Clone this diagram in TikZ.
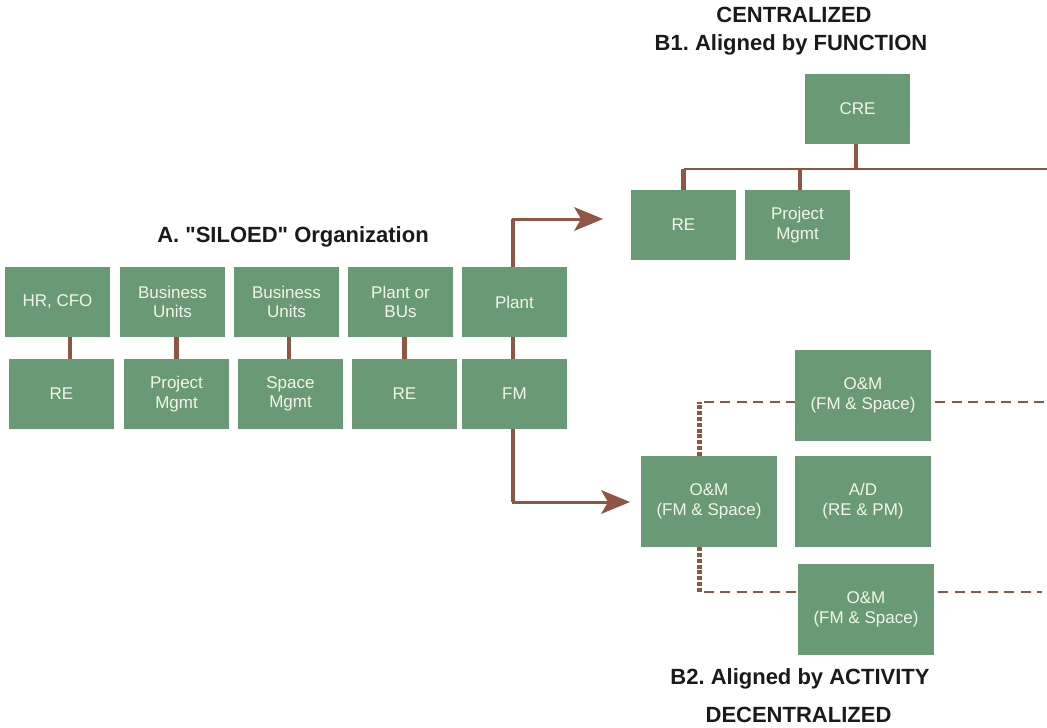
\documentclass[tikz,border=0pt]{standalone}
\usepackage{fontspec}
\setmainfont{Liberation Sans}
\newfontfamily\plainsans{Liberation Sans}
\usetikzlibrary{arrows.meta}
\definecolor{boxgreen}{HTML}{6A9A75}
\definecolor{linebrown}{HTML}{8F5643}
\definecolor{boxtext}{HTML}{F4F4EC}
\definecolor{titlecol}{HTML}{1A1A1A}
\tikzset{
  box/.style={fill=boxgreen, text=boxtext, inner sep=0pt, align=center,
    minimum width=105pt, minimum height=70pt, font=\fontsize{17}{19.5}\selectfont},
  bigbox/.style={box, minimum width=136pt, minimum height=91pt,
    font=\fontsize{17}{20}\selectfont},
  title/.style={text=titlecol, inner sep=0pt, anchor=base,
    font=\plainsans\fontsize{22}{26}\selectfont\bfseries\frenchspacing},
  stem/.style={draw=linebrown, line width=4.5pt},
  hline/.style={draw=linebrown, line width=2pt},
  arrowline/.style={draw=linebrown, line width=3pt,
    -{Stealth[length=29pt, width=24pt, inset=7pt, line width=0pt]}},
  dashline/.style={draw=linebrown, line width=2pt, dash pattern=on 10pt off 6.5pt, dash phase=-4pt},
  dotline/.style={draw=linebrown, line width=4.5pt, dash pattern=on 4pt off 1.8pt}
}
\begin{document}
\begin{tikzpicture}[x=1pt, y=-1pt]
\useasboundingbox (0,0) rectangle (1047,728);

% titles
\node[title] (tC)  at (794,23)  {CENTRALIZED};
\node[title] (tB1) at (791,50) {B1. Aligned by FUNCTION};
\node[title] (tA)  at (293,242) {A. "SILOED" Organization};
\node[title] (tB2) at (800,684) {B2. Aligned by ACTIVITY};
\node[title] (tD)  at (798.5,722.5) {DECENTRALIZED};

% A: siloed organization
\node[box] (hr)    at (57.5,302)  {HR, CFO};
\node[box] (bu1)   at (172.5,302) {Business\\Units};
\node[box] (bu2)   at (286.5,302) {Business\\Units};
\node[box] (pob)   at (400.5,302) {Plant or\\BUs};
\node[box] (plant) at (514.5,302) {Plant};

\node[box] (re1) at (61.5,394)  {RE};
\node[box] (pm1) at (176.5,394) {Project\\Mgmt};
\node[box] (sm)  at (290.5,394) {Space\\Mgmt};
\node[box] (re2) at (404.5,394) {RE};
\node[box] (fm)  at (514.5,394) {FM};

\draw[stem] ([xshift=8.5pt]re1.north) -- ([xshift=8.5pt]re1.north |- hr.south);
\draw[stem] (pm1.north) -- (pm1.north |- bu1.south);
\draw[stem] ([xshift=-1.5pt]sm.north) -- ([xshift=-1.5pt]sm.north |- bu2.south);
\draw[stem] (re2.north) -- (re2.north |- pob.south);
\draw[stem] ([xshift=-1.5pt]fm.north) -- ([xshift=-1.5pt]fm.north |- plant.south);

% B1: centralized
\node[box] (cre) at (857.5,109) {CRE};
\node[box] (reB) at (683.5,225) {RE};
\node[box] (pmB) at (797.5,225) {Project\\Mgmt};

\coordinate (j) at (856,169);
\coordinate (rend) at (1047,169);
\draw[stem] (j |- cre.south) -- (j);
\draw[hline] (reB.north |- j) -- (rend);
\draw[stem] (reB.north) -- (reB.north |- j);
\draw[stem] ([xshift=2.5pt]pmB.north) -- ([xshift=2.5pt]pmB.north |- j);

% arrows from plant / FM
\coordinate (tipA) at (603,219);
\coordinate (tipB) at (630,502);
\draw[stem] ([xshift=-1.5pt]plant.north) -- ([xshift=-1.5pt]plant.north |- tipA);
\draw[arrowline] ([xshift=-1.5pt]plant.north) |- (tipA);
\draw[stem] ([xshift=-1.5pt]fm.south) -- ([xshift=-1.5pt]fm.south |- tipB);
\draw[arrowline] ([xshift=-1.5pt]fm.south) |- (tipB);

% B2: decentralized
\node[bigbox] (omT) at (863,395.5) {O\&M\\(FM \& Space)};
\node[bigbox] (omC) at (709,501.5) {O\&M\\(FM \& Space)};
\node[bigbox] (ad)  at (863,501.5) {A/D\\(RE \& PM)};
\node[bigbox] (omB) at (866,609.5) {O\&M\\(FM \& Space)};

\coordinate (cT) at (699.5,402);
\coordinate (cB) at (699.5,592);
\coordinate (eT) at (1047,402);
\coordinate (eB) at (1042,592);
\draw[dotline] (cT |- omC.north) -- (cT);
\draw[dotline] (cB |- omC.south) -- (cB);
\draw[dashline] (cT) -- (omT.west |- cT);
\draw[dashline] (omT.east |- cT) -- (eT);
\draw[dashline] (cB) -- (omB.west |- cB);
\draw[dashline] (omB.east |- cB) -- (eB);
\end{tikzpicture}
\end{document}
